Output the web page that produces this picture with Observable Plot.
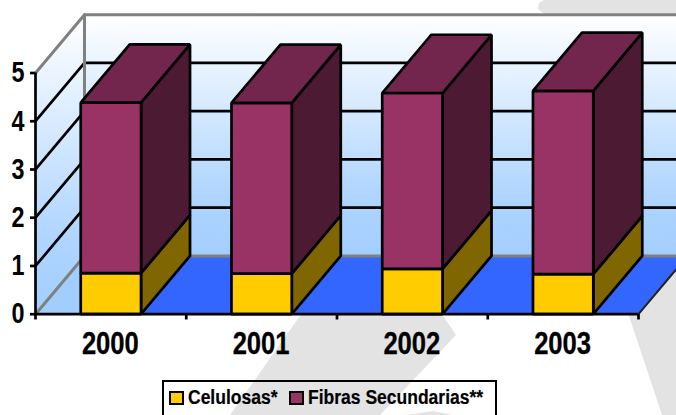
<!DOCTYPE html>
<html>
<head>
<meta charset="utf-8">
<script src="https://cdn.jsdelivr.net/npm/d3@7"></script>
<script src="https://cdn.jsdelivr.net/npm/@observablehq/plot@0.6"></script>
<style>
  html, body { margin: 0; padding: 0; background: #fff; width: 676px; height: 415px; overflow: hidden; }
  #page { position: relative; width: 676px; height: 415px; overflow: hidden;
          font-family: "Liberation Sans", Arial, sans-serif; font-weight: bold; color: #000; }
  .wm { position: absolute; left: 0; top: 0; width: 676px; height: 415px; background: #e3e3e3; }
  #chart { position: absolute; left: 0; top: 0; }
  #legend { position: absolute; left: 162px; top: 380px; width: 335px; height: 50px; box-sizing: border-box;
            border: 2px solid #000; font-size: 20px; line-height: 20px; }
  #legend span.sw { position: absolute; top: 9px; width: 15px; height: 14px; box-sizing: border-box; border: 2.5px solid #000; }
  #legend span.tx { position: absolute; top: 5px; white-space: nowrap; transform: scaleX(0.875); transform-origin: left center; -webkit-text-stroke: 0.2px #000; }
</style>
</head>
<body>
<div id="page">
  <div class="wm" style="clip-path: polygon(302px 313px, 441px 313px, 456px 335px, 380px 415px, 230px 415px)"></div>
  <div class="wm" style="clip-path: polygon(407px 415px, 433px 411px, 453px 415px)"></div>
  <div class="wm" style="clip-path: polygon(628px 313px, 676px 260px, 676px 415px, 662px 415px)"></div>
  <div class="wm" style="clip-path: polygon(544px 0px, 676px 0px, 676px 14px, 544px 14px, 538px 9px, 539px 3px)"></div>
  <div id="chart"></div>
  <div id="legend"></div>
</div>
<script>
const years = ["2000", "2001", "2002", "2003"];
const celulosas = [0.85, 0.84, 0.94, 0.83];
const fibras = [3.535, 3.54, 3.645, 3.80];
const yTicks = [0, 1, 2, 3, 4, 5];
const seriesNames = ["Celulosas*", "Fibras Secundarias**"];

// Oblique projection of the chart's depth axis, in scale units
const DX = 0.325, DY = 1.208, BAR = 0.4, LW = 2.7;
const P = (i, v, d) => ({x: i + d * DX, y: v + d * DY});
const poly = (pts, fill, stroke = "#000", strokeWidth = LW) =>
  Plot.line(pts, {x: "x", y: "y", curve: "linear-closed", fill, stroke, strokeWidth, strokeLinejoin: "miter"});
const seg = (a, b, stroke = "#000", strokeWidth = LW) =>
  Plot.line([a, b], {x: "x", y: "y", stroke, strokeWidth});
// narrows a text mark's glyphs to the reference's condensed lettering
const squeeze = (len) => (index, scales, values, dims, ctx, next) => {
  const g = next(index, scales, values, dims, ctx);
  d3.select(g).selectAll("text").attr("textLength", len).attr("lengthAdjust", "spacingAndGlyphs");
  return g;
};

const marks = [];

marks.push(() => {
  const defs = d3.create("svg:defs");
  const g = defs.append("linearGradient").attr("id", "wall").attr("x1", 0).attr("x2", 0).attr("y1", 0).attr("y2", 1);
  g.append("stop").attr("offset", "0%").attr("stop-color", "#ffffff");
  g.append("stop").attr("offset", "75%").attr("stop-color", "#afd5ff");
  g.append("stop").attr("offset", "100%").attr("stop-color", "#a2ceff");
  return defs.node();
});

const n = years.length;
marks.push(poly([P(0,0,1), P(0,5,1), P(n,5,1), P(n,0,1)], "url(#wall)", "none"));
marks.push(poly([P(0,0,0), P(0,5,0), P(0,5,1), P(0,0,1)], "url(#wall)", "none"));

const b0 = (1 - BAR) / 2;
marks.push(poly([P(0,0,0), P(b0 + 0.02,0,0), P(b0 + 0.02,0,1), P(0,0,1)], "#a2ceff", "none"));
marks.push(poly([P(b0 + BAR,0,0), P(n,0,0), P(n,0,1), P(b0 + BAR,0,1)], "#3366ff", "none"));
marks.push(seg(P(n,0,0), P(n,0,1), "#222", 2));

for (const v of [1, 2, 3, 4]) {
  marks.push(seg(P(0,v,0), P(0,v,1)));
  marks.push(seg(P(0,v,1), P(n,v,1)));
}
marks.push(seg(P(0,5,0), P(0,5,1), "#808080", 3));
marks.push(seg(P(0,0,0), P(0,0,1), "#808080", 3));
marks.push(seg(P(0,5,1), P(0,0,1), "#808080", 3));
marks.push(seg(P(0,5,1), P(n,5,1), "#808080", 3));
marks.push(seg(P(0,0,1), P(n,0,1), "#808080", 3));

years.forEach((_, i) => {
  const l = i + b0, r = l + BAR, a = celulosas[i], t = a + fibras[i];
  marks.push(poly([P(r,0,0), P(r,a,0), P(r,a,1), P(r,0,1)], "#806600"));
  marks.push(poly([P(l,0,0), P(r,0,0), P(r,a,0), P(l,a,0)], "#ffcc00"));
  marks.push(poly([P(r,a,0), P(r,t,0), P(r,t,1), P(r,a,1)], "#4d1a33"));
  marks.push(poly([P(l,a,0), P(r,a,0), P(r,t,0), P(l,t,0)], "#993366"));
  marks.push(poly([P(l,t,0), P(r,t,0), P(r,t,1), P(l,t,1)], "#73264d"));
});

marks.push(Plot.ruleY([0], {x1: 0, x2: n, stroke: "#000", strokeWidth: LW}));
marks.push(Plot.ruleX([0], {y1: 0, y2: 5, stroke: "#000", strokeWidth: LW}));
marks.push(Plot.ruleX(d3.range(n + 1), {y1: 0, y2: -0.12, stroke: "#000", strokeWidth: LW}));
marks.push(Plot.axisY({ticks: yTicks, tickSize: 5, tickPadding: 6, fontSize: 29, fill: "#000", stroke: "#000", strokeWidth: LW, label: null, tickFormat: d => String(d), render: squeeze(13)}));
marks.push(Plot.text(years, {x: (_, i) => i + 0.5, y: () => 0, text: d => d, dx: -0.5, dy: 30, fontSize: 30.5, fill: "#000", stroke: "#000", strokeWidth: 0.3, render: squeeze(57)}));

const chart = Plot.plot({
  width: 676, height: 378,
  marginLeft: 35, marginRight: 38, marginTop: 72.5, marginBottom: 64.3,
  x: {type: "linear", domain: [0, n], axis: null},
  y: {type: "linear", domain: [0, 5], axis: null},
  style: {background: "transparent", fontFamily: '"Liberation Sans", Arial, sans-serif', fontWeight: "bold"},
  marks
});
document.getElementById("chart").appendChild(chart);

const legend = d3.select("#legend");
const items = [{c: "#ffcc00", sw: 5, tx: 24}, {c: "#993366", sw: 125, tx: 144}];
items.forEach((it, i) => {
  legend.append("span").attr("class", "sw").style("left", it.sw + "px").style("background", it.c);
  legend.append("span").attr("class", "tx").style("left", it.tx + "px").text(seriesNames[i]);
});
</script>
</body>
</html>
